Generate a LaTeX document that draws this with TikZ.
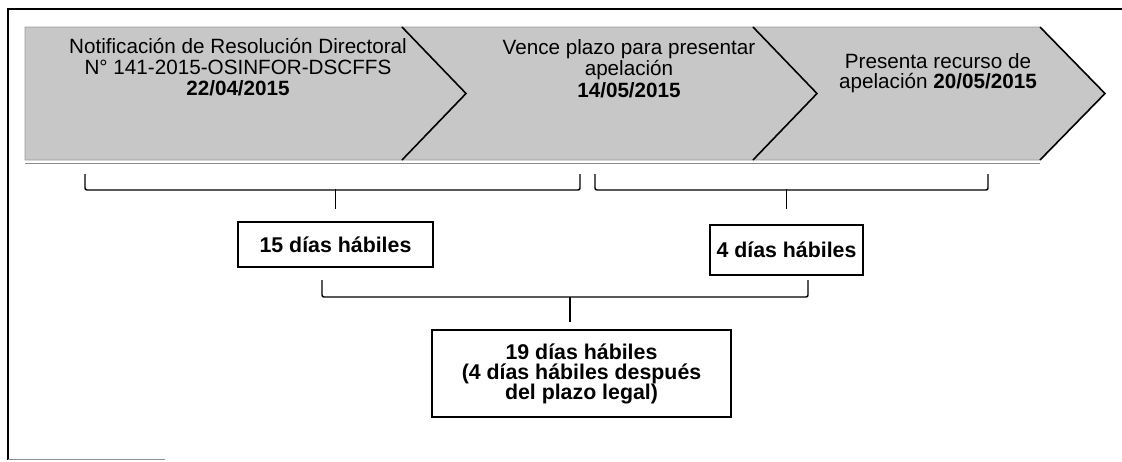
\documentclass[tikz,border=0pt]{standalone}
\usepackage{fontspec}
\setmainfont{Liberation Sans}
\usetikzlibrary{positioning}
\tikzstyle{chevron}=[fill=black!22,draw=black!40,line width=.4pt]
\tikzstyle{edge}=[black,line width=1.2pt]
\tikzstyle{bracket}=[black,line width=1.1pt,rounded corners=1.5pt]
\tikzstyle{chevtext}=[align=center,inner sep=0pt]
\tikzstyle{daybox}=[draw=black,line width=1.4pt,align=center,inner sep=0pt,
	font=\fontsize{16}{15}\selectfont\bfseries]

\begin{document}
\begin{tikzpicture}[x=.75pt,y=-.75pt,font=\fontsize{15.5}{15.5}\selectfont]
	\useasboundingbox (0,0) rectangle (1122,461);

	%frame
	\draw[line width=1.6pt] (8,460) -- (8,9) -- (1122,9);
	\draw[black!45,line width=.8pt] (8,459.5) -- (165,459.5);

	%chevrons
	\filldraw[chevron] (25,27) -- (402,27) -- (466,93.5) -- (402,160) -- (25,160) -- cycle;
	\filldraw[chevron] (402,27) -- (753,27) -- (817,93.5) -- (753,160) -- (402,160) -- (466,93.5) -- cycle;
	\filldraw[chevron] (753,27) -- (1040,27) -- (1105,93.5) -- (1040,160) -- (753,160) -- (817,93.5) -- cycle;
	\draw[edge] (402,27) -- (466,93.5) -- (402,160);
	\draw[edge] (753,27) -- (817,93.5) -- (753,160);
	\draw[edge] (1040,27) -- (1105,93.5) -- (1040,160);
	\draw[black!45,line width=.6pt] (25,163) -- (1040,163);

	\node[chevtext] (notif) at (238,67) {Notificación de Resolución Directoral\\N° 141-2015-OSINFOR-DSCFFS\\\textbf{22/04/2015}};
	\node[chevtext] (vence) at (629,69) {Vence plazo para presentar\\apelación\\[1.5pt]\textbf{14/05/2015}};
	\node[chevtext] (recurso) at (938,73) {Presenta recurso de\\apelación \textbf{20/05/2015}};

	%boxes
	\node[daybox,minimum width=146pt,minimum height=34pt] (d15) at (335.5,244.5) {15 días hábiles};
	\node[daybox,minimum width=115pt,minimum height=37.5pt] (d4) at (786.5,250) {4 días hábiles};
	\node[daybox,minimum width=224pt,minimum height=65pt] (d19) at (581.5,373.5) {19 días hábiles\\(4 días hábiles después\\del plazo legal)};

	%brackets
	\coordinate (a1) at (85,174);
	\coordinate (a2) at (580,174);
	\coordinate (b1) at (595,174);
	\coordinate (b2) at (988,174);
	\coordinate (c1) at (322,280);
	\coordinate (c2) at (808,280);
	\coordinate (cT) at (570,297);
	\draw[bracket] (a1) -- ++(0,16) -| (a2);
	\draw[bracket] (b1) -- ++(0,16) -| (b2);
	\draw[bracket] (c1) -- ++(0,17) -| (c2);
	\draw[bracket] ([yshift=24pt]d15.north) -- ([yshift=9pt]d15.north);
	\draw[bracket] ([yshift=26.25pt]d4.north) -- ([yshift=11.25pt]d4.north);
	\draw[bracket] (cT) -- ++(0,25);
\end{tikzpicture}
\end{document}
